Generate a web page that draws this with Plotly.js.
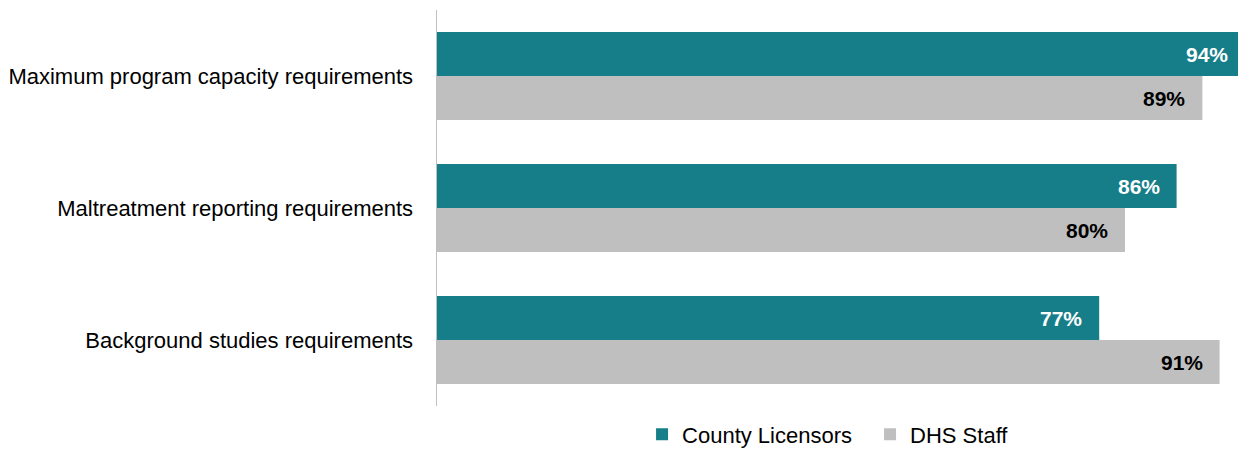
<!DOCTYPE html>
<html><head><meta charset="utf-8">
<script src="https://cdn.plot.ly/plotly-3.0.1.min.js"></script>
<style>html,body{margin:0;padding:0;background:#fff;}#chart{width:1238px;height:449px;}</style>
</head><body><div id="chart"></div>
<script>
const categories = ["Maximum program capacity requirements", "Maltreatment reporting requirements", "Background studies requirements"];
const countyLicensors = [0.94, 0.86, 0.77];
const dhsStaff = [0.89, 0.80, 0.91];
const seriesNames = ["County Licensors", "DHS Staff"];
const colors = ["#167E89", "#BFBFBF"];
const labelColors = ["#ffffff", "#000000"];
const FONT = "'Liberation Sans Narrow', 'Arial Narrow', 'Liberation Sans', Arial, sans-serif";
const XMAX = 0.9314;

const series = [countyLicensors, dhsStaff];
const traces = series.map((vals, i) => ({
  type: 'bar', orientation: 'h', name: seriesNames[i],
  x: vals, y: categories, marker: {color: colors[i]},
  hoverinfo: 'none'
}));

const annotations = [];
series.forEach((vals, i) => {
  vals.forEach((v, j) => {
    annotations.push({
      x: v / XMAX, xref: 'paper', y: categories[j], yref: 'y',
      text: '<b>' + Math.round(v * 100) + '%</b>',
      showarrow: false, xanchor: 'right', yanchor: 'middle',
      xshift: -15, yshift: i === 0 ? 22 : -22,
      font: {family: FONT, size: 21, color: labelColors[i]}
    });
  });
});

const layout = {
  width: 1238, height: 449,
  margin: {l: 437, r: 0, t: 10, b: 43, pad: 0, autoexpand: false},
  paper_bgcolor: '#fff', plot_bgcolor: '#fff',
  barmode: 'group', bargap: 0.3333, bargroupgap: 0,
  font: {family: FONT, size: 20, color: '#000'},
  xaxis: {range: [0, XMAX], visible: false, showgrid: false, zeroline: false, fixedrange: true},
  yaxis: {autorange: 'reversed', showline: true, linecolor: '#BFBFBF', linewidth: 1.5,
          ticks: '', ticklabelstandoff: 18, showgrid: false, zeroline: false,
          tickfont: {family: FONT, size: 22, color: '#000'}},
  showlegend: true,
  legend: {orientation: 'h', x: 0.256, xanchor: 'left', y: -0.072, yanchor: 'middle',
           font: {family: FONT, size: 22, color: '#000'}, traceorder: 'normal',
           itemwidth: 30, entrywidth: 183, entrywidthmode: 'pixels'},
  annotations: annotations
};
Plotly.newPlot('chart', traces, layout, {staticPlot: true, displayModeBar: false});
</script></body></html>
